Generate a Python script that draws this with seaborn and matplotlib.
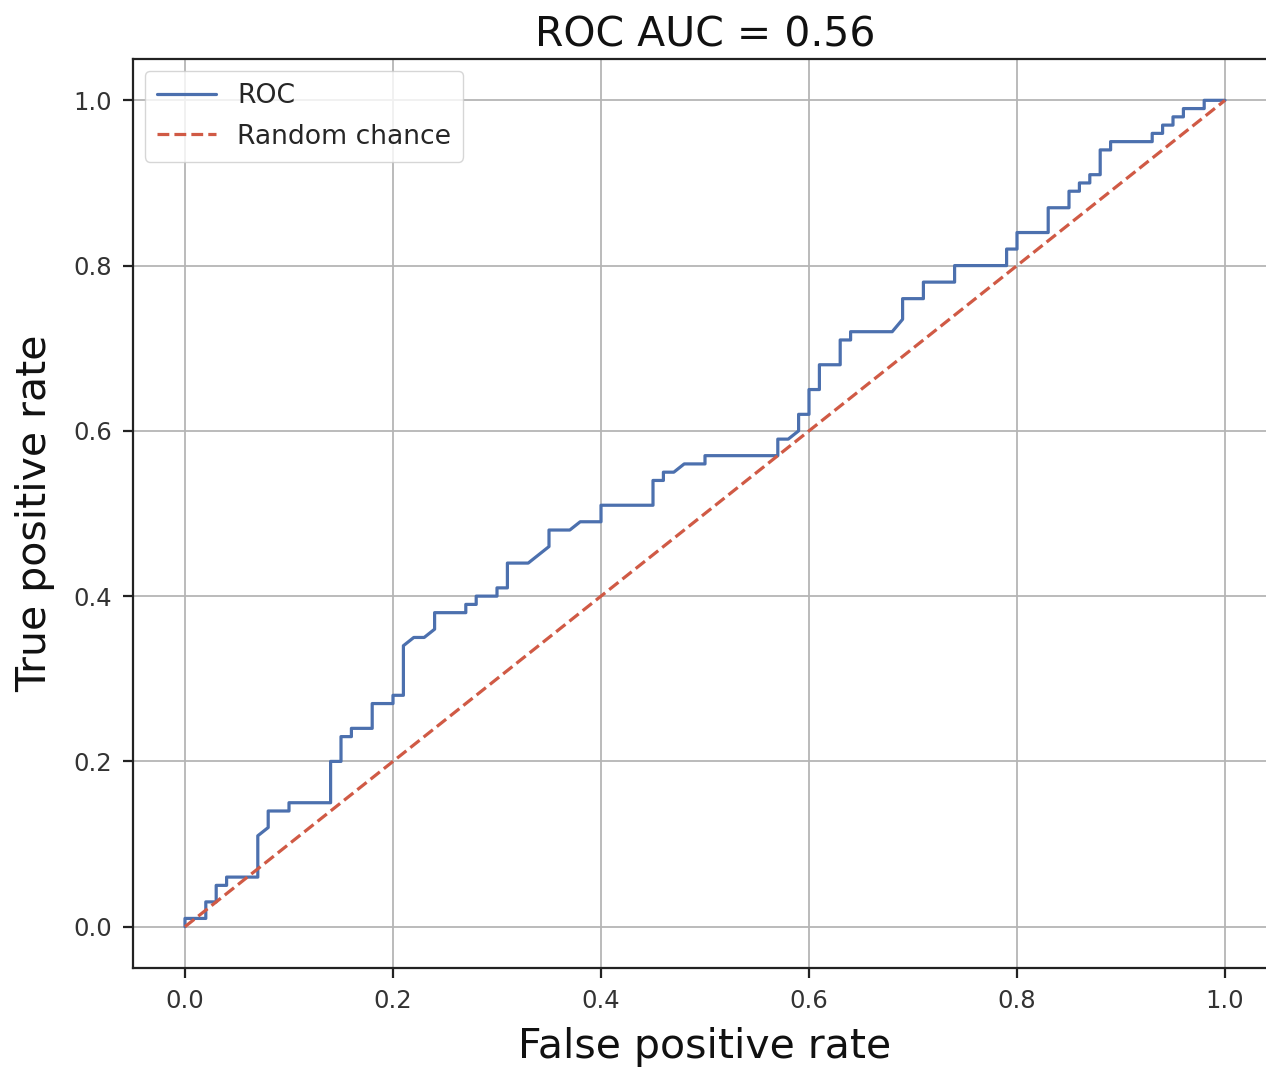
import numpy as np
import pandas as pd
import seaborn as sns
import matplotlib
matplotlib.use("Agg")
import matplotlib.pyplot as plt

# ROC curve vertices
fpr = [0.00, 0.00, 0.02, 0.02, 0.03, 0.03, 0.04, 0.04, 0.07, 0.07, 0.08, 0.08,
       0.10, 0.10, 0.14, 0.14, 0.15, 0.15, 0.16, 0.16, 0.18, 0.18, 0.20, 0.20,
       0.21, 0.21, 0.22, 0.23, 0.24, 0.24, 0.27, 0.27, 0.28, 0.28, 0.30, 0.30,
       0.31, 0.31, 0.33, 0.35, 0.35, 0.37, 0.38, 0.40, 0.40, 0.45, 0.45, 0.46,
       0.46, 0.47, 0.48, 0.50, 0.50, 0.57, 0.57, 0.58, 0.59, 0.59, 0.60, 0.60,
       0.61, 0.61, 0.63, 0.63, 0.64, 0.64, 0.68, 0.69, 0.69, 0.71, 0.71, 0.74,
       0.74, 0.79, 0.79, 0.80, 0.80, 0.83, 0.83, 0.85, 0.85, 0.86, 0.86, 0.87,
       0.87, 0.88, 0.88, 0.89, 0.89, 0.93, 0.93, 0.94, 0.94, 0.95, 0.95, 0.96,
       0.96, 0.98, 0.98, 1.00]
tpr = [0.00, 0.01, 0.01, 0.03, 0.03, 0.05, 0.05, 0.06, 0.06, 0.11, 0.12, 0.14,
       0.14, 0.15, 0.15, 0.20, 0.20, 0.23, 0.23, 0.24, 0.24, 0.27, 0.27, 0.28,
       0.28, 0.34, 0.35, 0.35, 0.36, 0.38, 0.38, 0.39, 0.39, 0.40, 0.40, 0.41,
       0.41, 0.44, 0.44, 0.46, 0.48, 0.48, 0.49, 0.49, 0.51, 0.51, 0.54, 0.54,
       0.55, 0.55, 0.56, 0.56, 0.57, 0.57, 0.59, 0.59, 0.60, 0.62, 0.62, 0.65,
       0.65, 0.68, 0.68, 0.71, 0.71, 0.72, 0.72, 0.735, 0.76, 0.76, 0.78, 0.78,
       0.80, 0.80, 0.82, 0.82, 0.84, 0.84, 0.87, 0.87, 0.89, 0.89, 0.90, 0.90,
       0.91, 0.91, 0.94, 0.94, 0.95, 0.95, 0.96, 0.96, 0.97, 0.97, 0.98, 0.98,
       0.99, 0.99, 1.00, 1.00]

# diagonal reference line
chance = [0.0, 1.0]
auc = 0.56

sns.set_theme(style="ticks")
plt.rcParams["font.family"] = ["DejaVu Sans"]

fig = plt.figure(figsize=(12.66, 10.72), dpi=100)
ax = fig.add_axes([133 / 1266, 104 / 1072, 1144 / 1266, 909 / 1072])

roc_df = pd.DataFrame({"fpr": fpr, "tpr": tpr})
sns.lineplot(data=roc_df, x="fpr", y="tpr", sort=False, estimator=None,
             color="#4c70ae", linewidth=2.3, label="ROC", ax=ax)
sns.lineplot(x=chance, y=chance, sort=False, estimator=None,
             color="#d05a45", linewidth=2.3, linestyle="--",
             label="Random chance", ax=ax)

ax.set_xlim(-0.05, 1.05)
ax.set_ylim(-0.05, 1.05)
ax.set_xticks(np.arange(0, 1.01, 0.2))
ax.set_yticks(np.arange(0, 1.01, 0.2))
ax.grid(True, color="#b5b5b5", linewidth=1.3)
ax.set_axisbelow(True)

for s in ax.spines.values():
    s.set_linewidth(1.6)
    s.set_color("#222222")
ax.tick_params(labelsize=17.5, length=7, width=1.6, pad=8, colors="#222222",
               labelcolor="#333333")

ax.set_title(f"ROC AUC = {auc:.2f}", fontsize=29.5, pad=9, color="#111111")
ax.set_xlabel("False positive rate", fontsize=29.5, labelpad=10, color="#111111")
ax.set_ylabel("True positive rate", fontsize=29.5, labelpad=13, color="#111111")

leg = ax.legend(loc="upper left", fontsize=19.2, handlelength=2.2,
                labelspacing=0.55, borderpad=0.45,
                frameon=True, fancybox=True, framealpha=0.8,
                borderaxespad=0.45)
leg.get_frame().set_edgecolor("#cccccc")

fig.savefig("out.png", dpi=100)
